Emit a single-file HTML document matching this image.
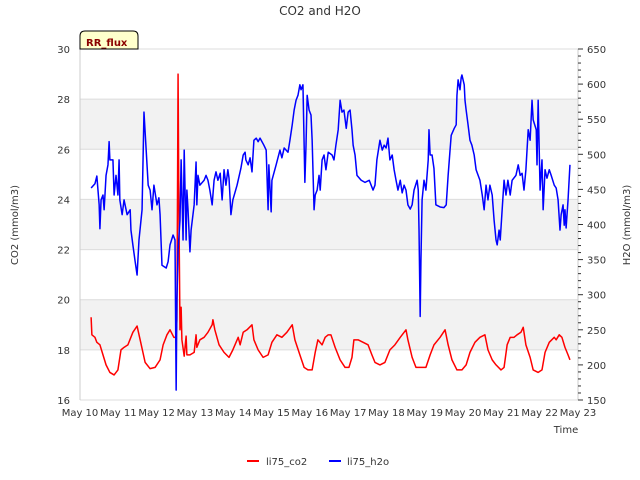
<!DOCTYPE html>
<html><head><meta charset="utf-8"><style>
body{margin:0;background:#fff;}
svg{display:block;font-family:"DejaVu Sans","Liberation Sans",sans-serif;}
</style></head><body>
<svg id="chart" width="640" height="480">
<text x="320" y="15" text-anchor="middle" font-size="12" fill="#333">CO2 and H2O</text>
<g id="grid"></g>
<g id="axes"></g>
<g id="series"></g>
<g>
<path d="M80,49 L80,36 Q80,31 85,31 L133,31 Q138,31 138,36 L138,49 Z" fill="#ffffcc" stroke="#000" stroke-width="1"/>
<text x="86" y="46" font-size="10" font-weight="bold" fill="#8b0000">RR_flux</text>
</g>
<text x="18" y="225" font-size="10" fill="#333" text-anchor="middle" transform="rotate(-90 18 225)">CO2 (mmol/m3)</text>
<text x="630" y="225" font-size="10" fill="#333" text-anchor="middle" transform="rotate(-90 630 225)">H2O (mmol/m3)</text>
<text x="566" y="433" font-size="10" fill="#333" text-anchor="middle">Time</text>
<g>
<g><line x1="247" y1="461" x2="259" y2="461" stroke="#ff0000" stroke-width="2"/><text x="266" y="465" font-size="10" fill="#333">li75_co2</text></g>
<g><line x1="329" y1="461" x2="341" y2="461" stroke="#0000ff" stroke-width="2"/><text x="347" y="465" font-size="10" fill="#333">li75_h2o</text></g>
</g>
</svg>
<script>
const xTickLabels=["May 10","May 11","May 12","May 13","May 14","May 15","May 16","May 17","May 18","May 19","May 20","May 21","May 22","May 23"];
const co2Ticks=[16,18,20,22,24,26,28,30];
const h2oTicks=[150,200,250,300,350,400,450,500,550,600,650];
const co2Days=[.29,.31,.39,.44,.52,.60,.68,.78,.89,.99,1.07,1.15,1.25,1.38,1.49,1.57,1.70,1.83,1.96,2.09,2.17,2.27,2.35,2.45,2.51,2.53,2.56,2.58,2.61,2.64,2.66,2.72,2.77,2.79,2.87,2.98,3.03,3.05,3.13,3.24,3.34,3.45,3.47,3.52,3.63,3.76,3.89,3.99,4.13,4.18,4.26,4.36,4.49,4.54,4.65,4.78,4.91,5.01,5.14,5.27,5.40,5.54,5.61,5.74,5.85,5.95,6.06,6.14,6.21,6.32,6.40,6.48,6.55,6.66,6.79,6.92,7.02,7.10,7.15,7.26,7.39,7.52,7.62,7.70,7.83,7.96,8.09,8.22,8.36,8.51,8.56,8.67,8.77,8.93,9.03,9.14,9.24,9.40,9.53,9.61,9.71,9.84,9.97,10.08,10.18,10.31,10.44,10.57,10.65,10.76,10.86,10.99,11.07,11.15,11.23,11.33,11.41,11.51,11.57,11.64,11.75,11.83,11.96,12.06,12.14,12.25,12.38,12.43,12.51,12.58,12.66,12.74,12.79];
const co2Values=[19.3,18.6,18.5,18.3,18.2,17.8,17.4,17.1,17.0,17.2,18.0,18.1,18.2,18.7,18.95,18.4,17.5,17.25,17.3,17.6,18.2,18.6,18.8,18.5,18.5,19.2,29.0,24.0,18.8,19.7,18.4,17.75,18.55,17.8,17.8,17.9,18.6,18.1,18.4,18.5,18.7,19.0,19.2,18.8,18.2,17.9,17.7,18.0,18.5,18.2,18.7,18.8,19.0,18.4,18.0,17.7,17.8,18.3,18.6,18.5,18.7,19.0,18.4,17.8,17.3,17.2,17.2,17.9,18.4,18.2,18.5,18.6,18.6,18.1,17.6,17.3,17.3,17.7,18.4,18.4,18.3,18.2,17.8,17.5,17.4,17.5,18.0,18.2,18.5,18.8,18.4,17.7,17.3,17.3,17.3,17.8,18.2,18.5,18.8,18.2,17.6,17.2,17.2,17.4,17.9,18.3,18.5,18.6,18.0,17.6,17.4,17.2,17.3,18.2,18.5,18.5,18.6,18.7,18.9,18.2,17.7,17.2,17.1,17.2,17.9,18.3,18.5,18.4,18.6,18.5,18.1,17.8,17.6];
const h2oDays=[.29,.39,.44,.50,.52,.55,.60,.63,.68,.73,.76,.78,.86,.89,.94,.99,1.02,1.04,1.10,1.15,1.23,1.31,1.33,1.38,1.44,1.49,1.54,1.62,1.67,1.72,1.78,1.83,1.88,1.93,2.01,2.06,2.09,2.14,2.25,2.30,2.35,2.43,2.48,2.51,2.53,2.56,2.61,2.64,2.69,2.72,2.77,2.79,2.82,2.87,2.90,2.98,3.03,3.05,3.08,3.13,3.24,3.29,3.34,3.39,3.45,3.50,3.55,3.60,3.66,3.71,3.76,3.81,3.86,3.89,3.94,3.99,4.10,4.20,4.26,4.31,4.33,4.39,4.44,4.49,4.54,4.60,4.65,4.70,4.80,4.86,4.91,4.93,4.99,5.01,5.12,5.22,5.27,5.33,5.43,5.48,5.54,5.59,5.64,5.69,5.74,5.77,5.82,5.87,5.90,5.93,5.98,6.03,6.06,6.11,6.14,6.19,6.24,6.27,6.32,6.37,6.42,6.48,6.58,6.63,6.68,6.74,6.79,6.84,6.89,6.95,7.00,7.05,7.10,7.13,7.18,7.23,7.34,7.44,7.55,7.65,7.70,7.75,7.83,7.89,7.94,7.99,8.04,8.09,8.15,8.20,8.25,8.30,8.36,8.41,8.46,8.51,8.56,8.62,8.67,8.72,8.80,8.83,8.85,8.88,8.90,8.93,8.98,9.03,9.09,9.11,9.14,9.19,9.24,9.29,9.40,9.50,9.56,9.61,9.66,9.69,9.77,9.82,9.84,9.87,9.92,9.95,9.97,10.03,10.05,10.08,10.13,10.18,10.23,10.29,10.34,10.44,10.50,10.55,10.60,10.65,10.70,10.76,10.81,10.86,10.89,10.94,10.97,11.02,11.07,11.12,11.17,11.23,11.28,11.38,11.44,11.49,11.54,11.59,11.64,11.70,11.75,11.80,11.83,11.91,11.93,11.96,12.01,12.06,12.09,12.14,12.19,12.25,12.30,12.38,12.43,12.48,12.53,12.56,12.61,12.64,12.66,12.69,12.74,12.79];
const h2oValues=[452,458,469,428,394,435,442,421,470,485,518,492,492,442,470,442,492,435,414,435,414,421,392,371,347,328,378,421,560,513,456,449,421,456,428,438,414,342,338,347,371,385,378,164,292,364,406,492,378,506,378,449,421,361,392,428,489,428,470,456,463,470,463,449,428,463,475,463,473,435,478,456,478,466,414,435,456,480,499,503,492,485,495,475,520,523,518,523,513,506,421,485,418,463,485,506,495,509,503,520,542,563,577,584,599,592,599,460,513,584,563,556,520,421,442,449,470,449,492,499,478,503,499,492,513,535,577,560,563,537,560,563,535,513,499,470,463,460,463,449,456,492,520,506,513,509,523,492,499,478,463,449,463,445,456,449,428,422,428,449,463,449,392,269,349,435,463,449,492,535,499,499,480,428,425,424,428,470,506,527,537,542,584,606,592,609,613,599,577,563,542,520,513,499,478,463,442,421,456,435,456,442,406,378,371,392,378,421,463,442,463,442,463,470,485,470,473,449,478,535,520,577,549,535,485,577,449,492,421,478,466,478,470,456,452,435,392,414,428,399,421,395,435,485];

const NS="http://www.w3.org/2000/svg";
const L=80,R=578,T=49,B=400;
const xScale=d=>L+(R-L)*d/13;
const yCo2=v=>B-(B-T)*(v-16)/14;
const yH2o=v=>B-(B-T)*(v-150)/500;
function mk(tag,attrs,parent){const e=document.createElementNS(NS,tag);for(const k in attrs)e.setAttribute(k,attrs[k]);parent.appendChild(e);return e;}
const grid=document.getElementById('grid'),axes=document.getElementById('axes'),series=document.getElementById('series');
for(let i=0;i<co2Ticks.length-1;i++){
  if(i%2===1){const r=mk('rect',{x:L,y:yCo2(co2Ticks[i+1]),width:R-L,height:yCo2(co2Ticks[i])-yCo2(co2Ticks[i+1]),fill:'#f2f2f2'},grid);
  
  }
}
co2Ticks.forEach(v=>{
  const g=mk('line',{x1:L,x2:R,y1:yCo2(v),y2:yCo2(v),stroke:'#dcdcdc','stroke-width':1},grid);
  
  
  const t=mk('text',{x:70,y:yCo2(v)+4,'text-anchor':'end','font-size':10,fill:'#333'},axes);
  t.textContent=v;
  
  
});
mk('line',{x1:L,x2:L,y1:T,y2:B,stroke:'#ccc'},axes);
mk('line',{x1:R,x2:R,y1:T,y2:B,stroke:'#ccc'},axes);
for(let v=150;v<=650;v+=10){
  const major=(v%50===0);
  mk('line',{x1:R,x2:R+(major?5:3),y1:yH2o(v),y2:yH2o(v),stroke:'#333'},axes);
}
h2oTicks.forEach(v=>{
  const t=mk('text',{x:587,y:yH2o(v)+4,'font-size':10,fill:'#333'},axes);
  t.textContent=v;
  
  
});
xTickLabels.forEach((s,i)=>{
  const t=mk('text',{x:xScale(i),y:416,'text-anchor':'middle','font-size':10,fill:'#333'},axes);
  t.textContent=s;
  
  
});
const co2Path=mk('polyline',{points:co2Days.map((d,i)=>xScale(d)+','+yCo2(co2Values[i])).join(' '),fill:'none',stroke:'#ff0000','stroke-width':1.5,'stroke-linejoin':'round'},series);


const h2oPath=mk('polyline',{points:h2oDays.map((d,i)=>xScale(d)+','+yH2o(h2oValues[i])).join(' '),fill:'none',stroke:'#0000ff','stroke-width':1.5,'stroke-linejoin':'round'},series);


</script>
</body></html>
